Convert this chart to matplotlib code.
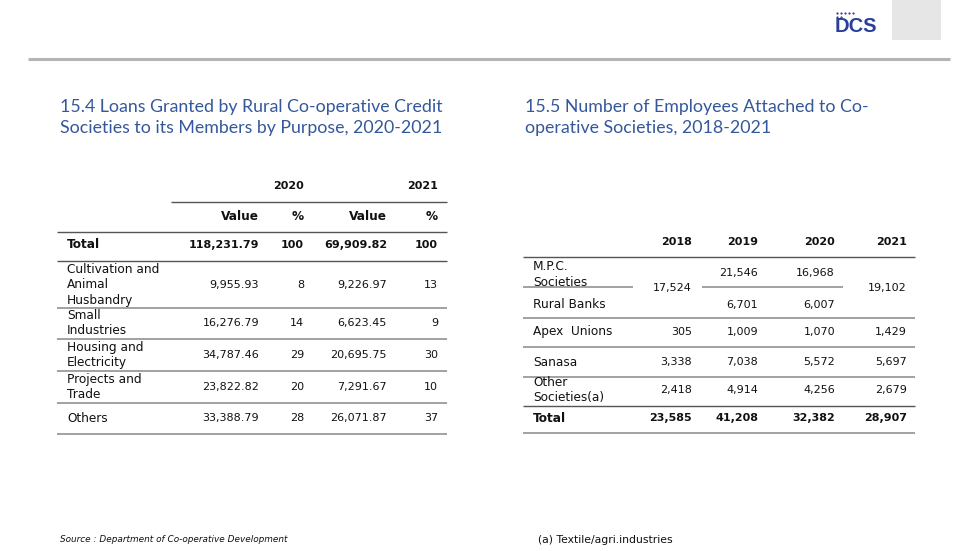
import matplotlib
matplotlib.use("Agg")
import matplotlib.pyplot as plt

# ---- data -----------------------------------------------------------------
loan_years = ["2020", "2021"]
loan_purposes = ["Total", "Cultivation and\nAnimal\nHusbandry", "Small\nIndustries",
                 "Housing and\nElectricity", "Projects and\nTrade", "Others"]
loan_value_2020 = [118231.79, 9955.93, 16276.79, 34787.46, 23822.82, 33388.79]
loan_pct_2020 = [100, 8, 14, 29, 20, 28]
loan_value_2021 = [69909.82, 9226.97, 6623.45, 20695.75, 7291.67, 26071.87]
loan_pct_2021 = [100, 13, 9, 30, 10, 37]

emp_years = ["2018", "2019", "2020", "2021"]
emp_types = ["M.P.C.\nSocieties", "Rural Banks", "Apex  Unions", "Sanasa",
             "Other\nSocieties(a)", "Total"]
emp_mpc = [None, 21546, 16968, None]
emp_rural_banks = [None, 6701, 6007, None]
emp_mpc_rural_joint = [17524, None, None, 19102]   # merged cells (2018, 2021)
emp_apex = [305, 1009, 1070, 1429]
emp_sanasa = [3338, 7038, 5572, 5697]
emp_other = [2418, 4914, 4256, 2679]
emp_total = [23585, 41208, 32382, 28907]

# ---- style ----------------------------------------------------------------
TITLE_BLUE = "#34589b"
TXT = "#111111"
DARK = "#555555"
GREY = "#9a9a9a"
FONT = "DejaVu Sans"
FS_NUM = 8      # figures
FS_LBL = 8.7    # words

fig = plt.figure(figsize=(9.8, 5.51), dpi=100)
ax = fig.add_axes([0, 0, 1, 1])
ax.set_xlim(0, 980)
ax.set_ylim(551, 0)
ax.axis("off")


def txt(x, y, s, ha="right", bold=False, fs=FS_NUM, **kw):
    ax.text(x, y, s, ha=ha, va="center", fontsize=fs,
            fontweight="bold" if bold else "normal", color=kw.pop("color", TXT),
            family=kw.pop("family", FONT), linespacing=1.27, **kw)


def hline(y, x0, x1, color=GREY, lw=1.3):
    ax.plot([x0, x1], [y, y], color=color, lw=lw, solid_capstyle="butt")


# header decoration
ax.add_patch(plt.Rectangle((892, 0), 49, 40, color="#e6e6e6", lw=0))
hline(59, 28, 950, color="#b4b4b4", lw=2.2)
ax.text(855.5, 26, "DCS", ha="center", va="center", fontsize=14.5, fontweight="bold",
        color="#2a3f9a", family="Liberation Sans")
ax.scatter([836.5, 840.5, 844.5, 848.5, 852.5, 836.5, 840.5], [13, 13, 13, 13, 13, 16.5, 16.5],
           s=2.5, color="#2a3f9a", lw=0)

# titles
ax.text(60, 117.5, "15.4 Loans Granted by Rural Co-operative Credit\n"
        "Societies to its Members by Purpose, 2020-2021", ha="left", va="center",
        fontsize=12.8, color=TITLE_BLUE, family="Lato", linespacing=1.42)
ax.text(525, 117.5, "15.5 Number of Employees Attached to Co-\n"
        "operative Societies, 2018-2021", ha="left", va="center",
        fontsize=12.8, color=TITLE_BLUE, family="Lato", linespacing=1.42)

# ---- table 15.4 -------------------------------------------------------------
col_r = [259, 304, 387, 438]
txt(col_r[1], 186, loan_years[0], bold=True)
txt(col_r[3], 186, loan_years[1], bold=True)
hline(202, 171, 447, color=DARK, lw=1)
for x, s in zip(col_r, ["Value", "%", "Value", "%"]):
    txt(x, 216, s, bold=True, fs=FS_LBL)
hline(232, 57, 447, color=DARK, lw=1)

row_y = [245, 285, 323, 355, 387, 418]
sep_y = [261, 308, 339, 371, 403, 434]
for i, name in enumerate(loan_purposes):
    b = name == "Total"
    y = row_y[i]
    txt(67, y, name, ha="left", bold=b, fs=FS_LBL)
    txt(col_r[0], y, f"{loan_value_2020[i]:,.2f}", bold=b)
    txt(col_r[1], y, f"{loan_pct_2020[i]}", bold=b)
    txt(col_r[2], y, f"{loan_value_2021[i]:,.2f}", bold=b)
    txt(col_r[3], y, f"{loan_pct_2021[i]}", bold=b)
    if i == 0:
        hline(sep_y[i], 57, 447, color=DARK, lw=1)
    else:
        hline(sep_y[i], 57, 447)

# ---- table 15.5 -------------------------------------------------------------
ecol = [692, 758, 835, 907]
for x, s in zip(ecol, emp_years):
    txt(x, 242, s, bold=True)
hline(257, 523, 915, color=DARK, lw=1)

erow_y = [274.5, 305, 332, 362, 390, 418]
esep_y = [318, 347, 377, 406, 433]
rows = [emp_mpc, emp_rural_banks, emp_apex, emp_sanasa, emp_other, emp_total]
for i, name in enumerate(emp_types):
    b = name == "Total"
    txt(533, erow_y[i], name, ha="left", bold=b, fs=FS_LBL)
    for j, v in enumerate(rows[i]):
        if v is not None:
            yy = 273 if i == 0 else erow_y[i]
            txt(ecol[j], yy, f"{v:,}", bold=b)
for j, v in enumerate(emp_mpc_rural_joint):
    if v is not None:
        txt(ecol[j], 288, f"{v:,}")
# partial separator between M.P.C. Societies and Rural Banks
hline(287, 523, 633)
hline(287, 702, 843)
for k, y in enumerate(esep_y):
    hline(y, 523, 915, color=DARK if k == 3 else GREY, lw=1 if k == 3 else 1.3)

# ---- notes ------------------------------------------------------------------
ax.text(60, 540, "Source : Department of Co-operative Development", ha="left",
        va="center", fontsize=6.4, style="italic", color=TXT, family=FONT)
ax.text(538, 540, "(a) Textile/agri.industries", ha="left", va="center",
        fontsize=7.8, color=TXT, family=FONT)

fig.savefig("out.png", dpi=100)
